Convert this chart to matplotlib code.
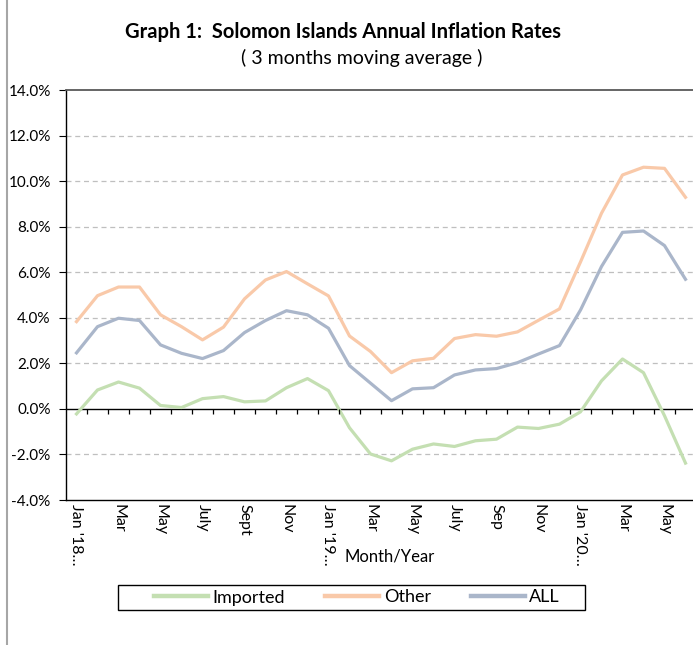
import matplotlib
matplotlib.use("Agg")
import matplotlib.pyplot as plt
from matplotlib.lines import Line2D
from matplotlib.patches import Rectangle
from matplotlib.ticker import FuncFormatter

plt.rcParams["font.family"] = ["Lato", "DejaVu Sans"]

months = ["Jan '18…", "Feb", "Mar", "Apr", "May", "Jun", "July", "Aug", "Sept", "Oct",
          "Nov", "Dec", "Jan '19…", "Feb", "Mar", "Apr", "May", "Jun", "July", "Aug",
          "Sep", "Oct", "Nov", "Dec", "Jan '20…", "Feb", "Mar", "Apr", "May", "Jun"]

imported = [-0.22, 0.83, 1.18, 0.91, 0.15, 0.06, 0.45, 0.54, 0.31, 0.35,
            0.93, 1.33, 0.80, -0.83, -1.98, -2.28, -1.77, -1.54, -1.65, -1.40,
            -1.33, -0.80, -0.86, -0.67, -0.13, 1.23, 2.19, 1.59, -0.30, -2.38]
other = [3.83, 4.97, 5.35, 5.35, 4.13, 3.61, 3.03, 3.59, 4.83, 5.66,
         6.03, 5.49, 4.96, 3.20, 2.52, 1.59, 2.11, 2.22, 3.09, 3.26,
         3.19, 3.38, 3.89, 4.39, 6.45, 8.59, 10.27, 10.61, 10.56, 9.29]
all_items = [2.46, 3.61, 3.98, 3.88, 2.81, 2.44, 2.21, 2.56, 3.35, 3.88,
             4.31, 4.13, 3.54, 1.90, 1.13, 0.36, 0.88, 0.93, 1.49, 1.71,
             1.77, 2.03, 2.41, 2.78, 4.34, 6.25, 7.75, 7.81, 7.17, 5.69]

series = [("Imported", imported, "#C4DFB2"),
          ("Other", other, "#F9C9A9"),
          ("ALL", all_items, "#AAB6CA")]

W, H = 693, 645
fig = plt.figure(figsize=(W / 100, H / 100), dpi=100)
ax = fig.add_axes([66 / W, (H - 500) / H, 630 / W, 410 / H])

x = list(range(len(months)))
handles = []
for name, vals, color in series:
    (ln,) = ax.plot(x, vals, color=color, linewidth=2.3, label=name)
    handles.append(ln)

ax.set_xlim(-0.5, len(months) - 0.5)
ax.set_ylim(-4, 14)
ax.set_yticks(range(-4, 15, 2))
ax.yaxis.set_major_formatter(FuncFormatter(lambda v, p: f"{v:.1f}%"))
ax.tick_params(axis="y", length=5, width=0.8, labelsize=11, pad=6)
for v in range(-2, 13, 2):
    if v != 0:
        ax.axhline(v, color="#BFBFBF", linewidth=0.9, linestyle=(0, (4, 3)), zorder=0)
ax.axhline(0, color="black", linewidth=1.0, zorder=1)
# category tick marks on the zero line
ax.vlines([i + 0.5 for i in x[:-1]], -0.24, 0, color="black", linewidth=0.9)

ax.set_xticks(x[::2])
ax.set_xticklabels(months[::2], rotation=270, fontsize=11.5, va="top", ha="center")
ax.tick_params(axis="x", length=0, pad=3)

ax.spines["top"].set_color("#595959")
ax.spines["top"].set_linewidth(1.3)
ax.spines["right"].set_visible(False)
ax.spines["left"].set_linewidth(1.0)
ax.spines["bottom"].set_linewidth(1.0)

fig.text(343 / W, 1 - 32 / H, "Graph 1:  Solomon Islands Annual Inflation Rates",
         ha="center", va="center", fontsize=14.5, fontweight="bold")
fig.text(362 / W, 1 - 58 / H, "( 3 months moving average )",
         ha="center", va="center", fontsize=14)
fig.text(390 / W, 1 - 557 / H, "Month/Year", ha="center", va="center", fontsize=12)

# legend box drawn separately, entries centred inside it
fig.add_artist(Rectangle((118 / W, 1 - 610 / H), 467 / W, 25 / H, transform=fig.transFigure,
                         facecolor="white", edgecolor="black", linewidth=1.0))
leg = fig.legend(handles=handles, loc="center", ncol=3,
                 bbox_to_anchor=(357 / W, 1 - 597.5 / H), frameon=False,
                 fontsize=13, handlelength=3.0, handletextpad=0.25, columnspacing=2.2,
                 borderpad=0)
for h in leg.legend_handles:
    h.set_linewidth(3.2)

fig.add_artist(Line2D([7 / W, 7 / W], [0, 1], color="#A6A6A6", linewidth=1.5))

fig.savefig("out.png", dpi=100)
